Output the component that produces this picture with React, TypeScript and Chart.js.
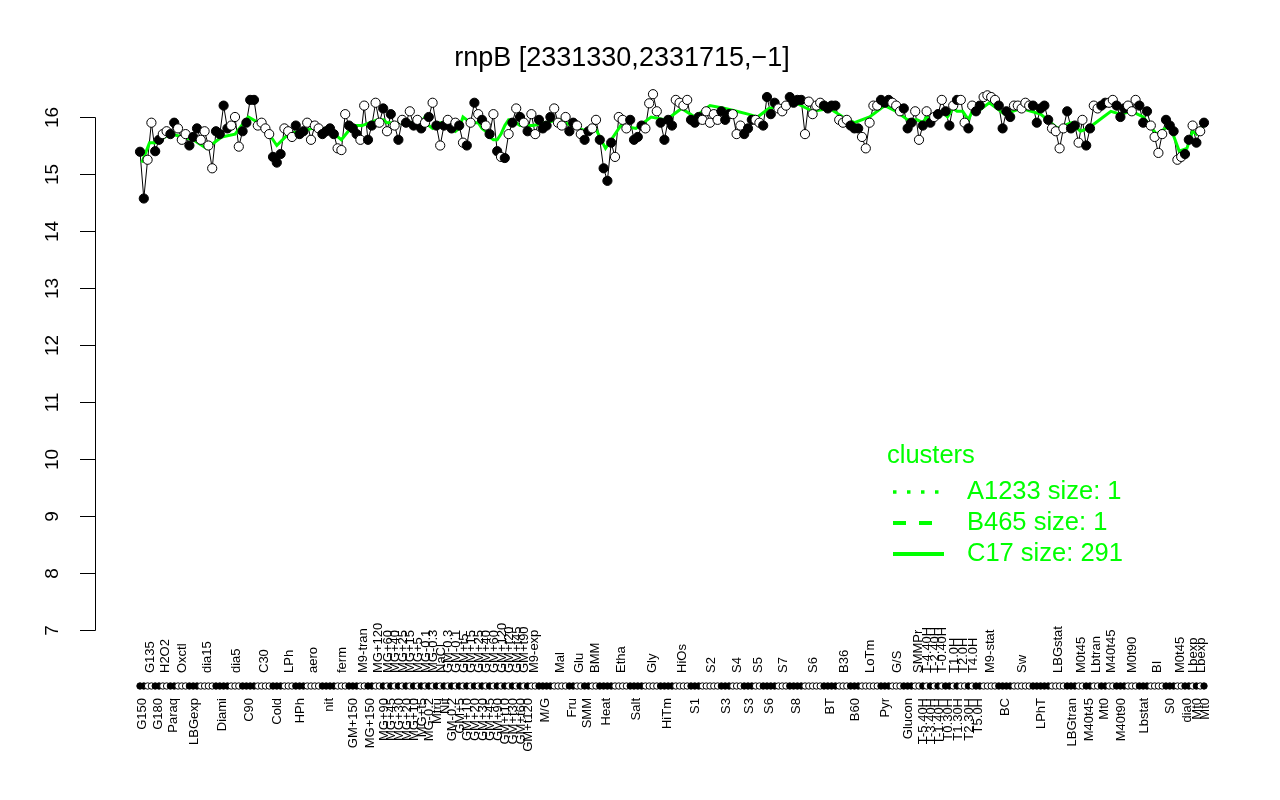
import React, { useEffect, useRef } from "react";
import { Chart, registerables } from "chart.js";

Chart.register(...registerables);

const FONT = '"Liberation Sans", Arial, Helvetica, sans-serif';

const titleText = "rnpB [2331330,2331715,\u22121]";

const conditions = [
  "G150", "G135", "G180", "H2O2", "Paraq", "Oxctl", "LBGexp", "dia15", "Diami", "dia5", "C90", "C30",
  "Cold", "LPh", "HPh", "aero", "nit", "ferm", "GM+150", "M9-tran", "MG+150", "MG+120",
  "MG+90", "MG+60", "MG+45", "MG+40", "MG+30", "MG+25", "MG+20", "MG+15", "MG+10", "MG+5", "MG+t5",
  "MG-0.1", "MG-0.2", "MG-0.3", "Mtru", "NaCl", "Nit", "GM-0.3", "GM-0.2", "GM-0.1", "GM+5", "GM+t5",
  "GM+10", "GM+15", "GM+20", "GM+25", "GM+30", "GM+40", "GM+45", "GM+60", "GM+90", "GM+120", "GM+t10",
  "GM+t20", "GM+t30", "GM+t45", "GM+t60", "GM+t90", "GM+t120",
  "M9-exp", "M/G", "Mal", "Fru", "Glu", "SMM", "BMM", "Heat", "Etha", "Salt", "Gly", "HiTm", "HiOs",
  "S1", "S2", "S3", "S4", "S3", "S5", "S6", "S7", "S8", "S6", "BT", "B36", "B60", "LoTm", "Pyr", "G/S",
  "Glucon", "SMMPr",
  "T-5.40H", "T-4.40H", "T-3.40H", "T-2.40H", "T-1.40H", "T-0.40H", "T0.30H", "T1.0H", "T1.30H",
  "T2.0H", "T2.30H", "T4.0H", "T5.0H",
  "M9-stat", "BC", "Sw", "LPhT", "LBGstat", "LBGtran", "M0t45", "M40t45", "Lbtran", "Mt0", "M40t45",
  "M40t90", "M0t90", "Lbstat", "BI", "S0", "M0t45", "dia0", "Lbexp", "Mt0", "Lbexp", "Mt0",
];

// expression values of each replicate, grouped by condition
const expression: number[][] = [
  [15.39, 14.57], [15.25, 15.9], [15.4, 15.6], [15.7, 15.75], [15.7, 15.9],
  [15.8, 15.6, 15.7], [15.5, 15.65, 15.8], [15.6, 15.75, 15.5, 15.1], [15.75, 15.7, 16.2, 15.8],
  [15.85, 16.0, 15.48], [15.75, 15.9, 16.3, 16.3], [15.85, 15.9, 15.8, 15.7], [15.3, 15.2, 15.35],
  [15.8, 15.75, 15.65], [15.85, 15.7, 15.75], [15.9, 15.6, 15.85, 15.8], [15.7, 15.75, 15.8, 15.7],
  [15.45, 15.42, 16.05], [15.85, 15.8, 15.7], [15.6, 16.2], [15.6, 15.85], [16.25, 15.9],
  // dense MG / GM block, one sample each
  [16.15], [15.75], [16.05], [15.85], [15.6], [15.95], [15.9], [16.1], [15.85], [15.95],
  [15.8], [15.9], [16.0], [16.25], [15.85], [15.5], [15.85], [15.95], [15.8], [15.9],
  [15.85], [15.55], [15.5], [15.9], [16.25], [16.05], [15.95], [15.85], [15.7], [16.05],
  [15.4], [15.3], [15.28], [15.7], [15.9], [16.15], [16.0], [15.9], [15.75],
  // M9-exp .. SMMPr
  [16.05, 15.7], [15.95, 15.8, 15.85, 16.0], [16.15, 15.9, 15.85, 16.0], [15.75, 15.9], [15.85, 15.7],
  [15.6, 15.75], [15.8, 15.95], [15.6, 15.1, 14.88, 15.55], [15.3, 16.0, 15.95, 15.8],
  [15.95, 15.6, 15.65, 15.85], [15.8, 16.24, 16.4, 16.1], [15.9, 15.6, 15.95, 15.85],
  [16.3, 16.25, 16.2, 16.3], [15.95, 15.9, 16.0], [15.95, 16.1, 15.9, 16.05, 15.95], [16.1, 15.95, 16.05],
  [16.05, 15.7, 15.85], [15.7, 15.8, 15.95], [15.95, 15.9], [15.85, 16.35, 16.05, 16.25],
  [16.15, 16.1, 16.2], [16.35, 16.25, 16.3, 16.3], [15.7, 16.27, 16.05, 16.2, 16.25],
  [16.2, 16.15, 16.2, 16.2], [15.95, 15.9, 15.95], [15.85, 15.8, 15.8], [15.65, 15.45, 15.9, 16.2, 16.2],
  [16.3, 16.25, 16.3], [16.25, 16.2, 16.1], [16.15, 15.8, 15.9], [16.1, 15.6],
  // time series
  [15.85], [16.1], [15.9], [16.0], [16.05], [16.3], [16.1, 15.85], [16.2], [16.3], [16.3, 15.9],
  [15.8], [16.2], [16.1, 16.2],
  // M9-stat .. end
  [16.35, 16.38, 16.35, 16.3], [16.2, 15.8, 16.1, 16.0], [16.2, 16.2, 16.15, 16.25, 16.2],
  [16.2, 15.9, 16.15, 16.2, 15.95], [15.8, 15.75, 15.45, 15.8], [16.1, 15.8, 15.85], [15.55, 15.95],
  [15.5, 15.8], [16.2, 16.15], [16.2, 16.25], [16.25, 16.3], [16.2, 16.0, 16.15], [16.2, 16.1, 16.3],
  [16.2, 15.9, 16.1], [15.85, 15.65, 15.37, 15.7], [15.95, 15.85, 15.75], [15.25, 15.3], [15.35, 15.6],
  [15.85], [15.55], [15.75], [15.9],
];

// cluster C17 mean profile, one value per condition
const clusterMean = [
  15.2, 15.55, 15.55, 15.65, 15.7, 15.65, 15.6, 15.45, 15.65, 15.7, 16.0, 15.85, 15.5, 15.7, 15.75,
  15.8, 15.8, 15.6, 15.85, 15.85, 15.9, 15.95,
  15.95, 15.9, 15.9, 15.85, 15.9, 15.9, 15.95, 15.9, 15.9, 15.95,
  15.9, 16.0, 15.85, 15.8, 15.85, 15.9, 15.9, 15.85, 15.8, 15.75,
  15.8, 16.0, 15.95, 15.9, 15.9, 15.9, 15.8, 15.75, 15.65, 15.6,
  15.6, 15.7, 15.85, 15.95, 15.95, 15.9, 15.85, 15.85, 15.85,
  15.85, 15.9, 15.95, 15.85, 15.8, 15.75, 15.85, 15.45, 15.85, 15.8, 16.0, 15.95, 16.15, 16.0, 16.2,
  16.15, 16.1, 16.05, 16.0, 16.15, 16.2, 16.25, 16.1, 16.15, 16.0, 15.9, 16.0, 16.2, 16.1, 15.95, 15.95,
  15.9, 16.0, 15.95, 16.0, 16.05, 16.1, 16.0, 16.15, 16.1, 16.1, 15.95, 16.1, 16.1,
  16.25, 16.05, 16.15, 16.05, 15.8, 15.9, 15.75, 15.8, 15.9, 16.0, 16.1, 16.05, 16.1, 16.0, 15.7,
  15.85, 15.4, 15.45, 15.75, 15.7, 15.8, 15.85,
];

const yTicks = [7, 8, 9, 10, 11, 12, 13, 14, 15, 16];

const legendTitle = "clusters";
const legendLabels = ["A1233 size: 1", "B465 size: 1", "C17 size: 291"];

const GREEN = "#00ff00";

export default function App() {
  const canvasRef = useRef<HTMLCanvasElement | null>(null);

  useEffect(() => {
    const canvas = canvasRef.current;
    if (!canvas) return;

    // build point table from the condition groups
    const points: { x: number; y: number }[] = [];
    const fills: string[] = [];
    const groups: { start: number; n: number }[] = [];
    expression.forEach((vals, k) => {
      const start = points.length;
      vals.forEach((v) => {
        points.push({ x: points.length, y: v });
        fills.push(k % 2 === 0 ? "#000000" : "#ffffff");
      });
      groups.push({ start, n: vals.length });
    });
    const centers = groups.map((g, k) => ({ x: g.start + (g.n - 1) / 2, y: clusterMean[k] }));

    const N = points.length;
    const plotW = 1120;
    const range = ((N - 1) * plotW) / 1064;
    const xMin = (-45 * range) / plotW;
    const xMax = xMin + range;

    const overlay = {
      id: "rOverlay",
      afterDraw(chart: any) {
        const ctx: CanvasRenderingContext2D = chart.ctx;
        const xs = chart.scales.x;
        const ys = chart.scales.y;
        const left = chart.chartArea.left;
        ctx.save();

        // title
        ctx.fillStyle = "#000";
        ctx.font = `27px ${FONT}`;
        ctx.textAlign = "center";
        ctx.textBaseline = "middle";
        ctx.fillText(titleText, 622, 59);

        // y axis
        ctx.strokeStyle = "#000";
        ctx.lineWidth = 1;
        const yTop = ys.getPixelForValue(yTicks[yTicks.length - 1]);
        const yBot = ys.getPixelForValue(yTicks[0]);
        ctx.beginPath();
        ctx.moveTo(left + 0.5, Math.round(yTop) + 0.5);
        ctx.lineTo(left + 0.5, Math.round(yBot) + 0.5);
        ctx.stroke();
        ctx.font = `19px ${FONT}`;
        yTicks.forEach((v) => {
          const py = Math.round(ys.getPixelForValue(v)) + 0.5;
          ctx.beginPath();
          ctx.moveTo(left - 15, py);
          ctx.lineTo(left + 0.5, py);
          ctx.stroke();
          ctx.save();
          ctx.translate(58, py);
          ctx.rotate(-Math.PI / 2);
          ctx.textAlign = "center";
          ctx.textBaseline = "alphabetic";
          ctx.fillText(String(v), 0, 0);
          ctx.restore();
        });

        // rug row of sample markers
        const rugY = 686;
        points.forEach((p, i) => {
          const px = xs.getPixelForValue(p.x);
          ctx.beginPath();
          ctx.arc(px, rugY, 3.2, 0, Math.PI * 2);
          ctx.fillStyle = fills[i];
          ctx.fill();
          ctx.lineWidth = 1;
          ctx.strokeStyle = "#000";
          ctx.stroke();
        });

        // condition labels, alternating below / above the rug
        ctx.fillStyle = "#000";
        ctx.font = `13px ${FONT}`;
        conditions.forEach((lab, k) => {
          const g = groups[k];
          if (!g) return;
          const px = xs.getPixelForValue(g.start + (g.n - 1) / 2);
          ctx.save();
          if (k % 2 === 0) {
            ctx.translate(px, 698);
            ctx.rotate(-Math.PI / 2);
            ctx.textAlign = "right";
          } else {
            ctx.translate(px, 673);
            ctx.rotate(-Math.PI / 2);
            ctx.textAlign = "left";
          }
          ctx.textBaseline = "middle";
          ctx.fillText(lab, 0, 1);
          ctx.restore();
        });

        // legend
        ctx.fillStyle = GREEN;
        ctx.strokeStyle = GREEN;
        ctx.font = `25.5px ${FONT}`;
        ctx.textAlign = "left";
        ctx.textBaseline = "middle";
        ctx.fillText(legendTitle, 887, 456);
        const rowY = [492, 523, 554];
        const dashes = [[3.5, 10.5], [13, 13], []];
        legendLabels.forEach((lab, i) => {
          ctx.save();
          ctx.lineWidth = i === 0 ? 3.5 : 4;
          ctx.lineCap = "butt";
          ctx.setLineDash(dashes[i]);
          ctx.beginPath();
          ctx.moveTo(893, rowY[i]);
          ctx.lineTo(i === 1 ? 934 : 944, rowY[i]);
          ctx.stroke();
          ctx.restore();
          ctx.fillText(lab, 967, rowY[i]);
        });

        ctx.restore();
      },
    };

    const chart = new Chart(canvas, {
      type: "line",
      data: {
        datasets: [
          {
            data: points,
            showLine: false,
            pointRadius: 4.6,
            pointBorderWidth: 1,
            pointBorderColor: "#000",
            pointBackgroundColor: fills,
            order: 1,
          },
          {
            data: centers,
            borderColor: GREEN,
            borderWidth: 3,
            pointRadius: 0,
            fill: false,
            order: 2,
          },
          {
            data: points,
            borderColor: "#000",
            borderWidth: 1,
            pointRadius: 0,
            fill: false,
            order: 3,
          },
        ],
      } as any,
      options: {
        animation: false,
        responsive: false,
        devicePixelRatio: 1,
        events: [],
        layout: { padding: { left: 95, right: 65, top: 80, bottom: 150 } },
        plugins: { legend: { display: false }, tooltip: { enabled: false }, title: { display: false } },
        scales: {
          x: { type: "linear", min: xMin, max: xMax, display: false },
          y: { type: "linear", min: 7 - 20 / 57, max: 16 + 37 / 57, display: false },
        },
      } as any,
      plugins: [overlay],
    });

    return () => chart.destroy();
  }, []);

  return (
    <div style={{ position: "fixed", left: 0, top: 0, width: 1280, height: 800, background: "#fff" }}>
      <canvas ref={canvasRef} width={1280} height={800} style={{ display: "block" }} />
    </div>
  );
}
